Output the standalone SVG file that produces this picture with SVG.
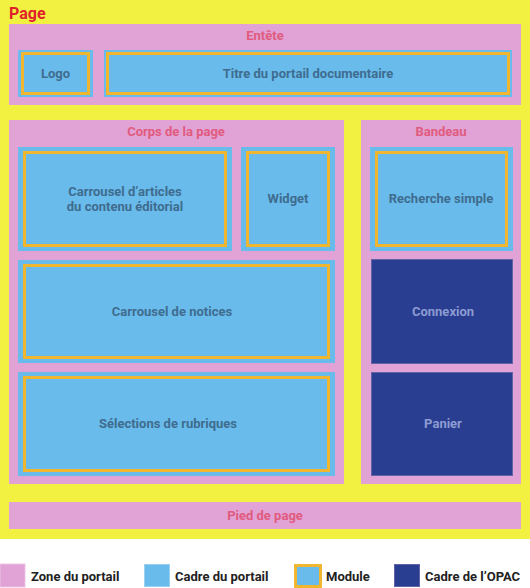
<svg xmlns="http://www.w3.org/2000/svg" width="530" height="588" viewBox="0 0 530 588">
<style>
text{font-family:Roboto,"Liberation Sans",Arial,sans-serif;font-weight:bold;text-anchor:middle;dominant-baseline:central}
.zone{fill:#E1A2D5}
.ztitle{fill:#E05B7E;font-size:13px}
.cadre{fill:#68BBEA}
.module{fill:#68BBEA;stroke:#F0B62F;stroke-width:3}
.opac{fill:#293D91;stroke:#6262A8;stroke-width:1}
.lbl{fill:#3F6C8F;font-size:13px}
.olbl{fill:#8C9CD2;font-size:13px}
.leg{fill:#222;font-size:13px;text-anchor:start}
</style>
<rect x="0" y="0" width="530" height="588" fill="#ffffff"/>
<rect x="0" y="0" width="530" height="539" fill="#F2F040"/>
<text x="9" y="13" style="text-anchor:start;font-size:16px;fill:#E0202A">Page</text>

<g id="entete">
<rect class="zone" x="9" y="24" width="512" height="81"/>
<text class="ztitle" x="265" y="35">Entête</text>
</g>
<g id="logo">
<rect class="cadre" x="18" y="50" width="75" height="47"/>
<rect class="module" x="22.5" y="53.5" width="66" height="40"/>
<text class="lbl" x="55.5" y="73">Logo</text>
</g>
<g id="titre">
<rect class="cadre" x="104" y="50" width="408" height="47"/>
<rect class="module" x="107.5" y="53.5" width="401" height="40"/>
<text class="lbl" x="308" y="73">Titre du portail documentaire</text>
</g>

<g id="corps">
<rect class="zone" x="9" y="120" width="335" height="364"/>
<text class="ztitle" x="176" y="131">Corps de la page</text>
</g>
<g id="carrousel-articles">
<rect class="cadre" x="18" y="147" width="214" height="104"/>
<rect class="module" x="24.5" y="152.5" width="201" height="93"/>
<text class="lbl" x="125" y="191">Carrousel d’articles</text>
<text class="lbl" x="125" y="206">du contenu éditorial</text>
</g>
<g id="widget">
<rect class="cadre" x="241" y="147" width="94" height="104"/>
<rect class="module" x="247.5" y="152.5" width="81" height="93"/>
<text class="lbl" x="288" y="198">Widget</text>
</g>
<g id="carrousel-notices">
<rect class="cadre" x="18" y="260" width="317" height="103"/>
<rect class="module" x="24.5" y="265.5" width="304" height="92"/>
<text class="lbl" x="172" y="311">Carrousel de notices</text>
</g>
<g id="selections">
<rect class="cadre" x="18" y="372" width="317" height="104"/>
<rect class="module" x="24.5" y="377.5" width="304" height="93"/>
<text class="lbl" x="168" y="423">Sélections de rubriques</text>
</g>

<g id="bandeau">
<rect class="zone" x="361" y="120" width="160" height="364"/>
<text class="ztitle" x="441" y="131">Bandeau</text>
</g>
<g id="recherche">
<rect class="cadre" x="370" y="147" width="143" height="104"/>
<rect class="module" x="376.5" y="152.5" width="130" height="93"/>
<text class="lbl" x="441" y="198">Recherche simple</text>
</g>
<g id="connexion">
<rect class="opac" x="371.5" y="259.5" width="141" height="104"/>
<text class="olbl" x="443" y="311">Connexion</text>
</g>
<g id="panier">
<rect class="opac" x="371.5" y="372.5" width="141" height="103"/>
<text class="olbl" x="443" y="423">Panier</text>
</g>

<g id="pied">
<rect class="zone" x="9" y="502" width="512" height="27"/>
<text class="ztitle" x="265" y="515">Pied de page</text>
</g>

<g id="connectors"></g>

<g id="legende">
<rect class="zone" x="0" y="564" width="25" height="23" stroke="#EBC3E5" stroke-width="1"/>
<text class="leg" x="31" y="576">Zone du portail</text>
<rect class="cadre" x="144.5" y="564.5" width="25" height="22" stroke="#9AD0F0" stroke-width="1"/>
<text class="leg" x="175" y="576">Cadre du portail</text>
<rect class="module" x="295.5" y="565.5" width="25" height="21"/>
<text class="leg" x="326" y="576">Module</text>
<rect class="opac" x="394.5" y="564.5" width="25" height="22"/>
<text class="leg" x="425" y="576">Cadre de l’OPAC</text>
</g>
</svg>
